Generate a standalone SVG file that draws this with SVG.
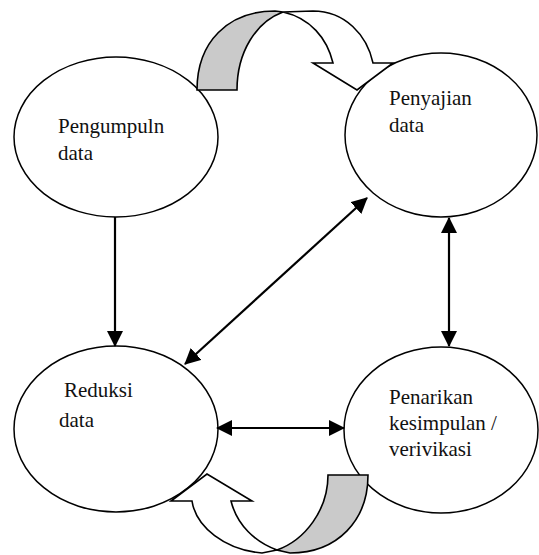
<svg xmlns="http://www.w3.org/2000/svg" width="539" height="555" viewBox="0 0 539 555">
<style>
.node ellipse{fill:#fff;stroke:#000;stroke-width:1.5}
.node text{font-family:"Liberation Serif","Times New Roman",serif;font-size:21px;fill:#111}
.conn line{stroke:#000;stroke-width:2.2;fill:none}
.ribbon{stroke:#000;stroke-width:1.6;stroke-linejoin:miter}
.shade{fill:#cacaca}
.face{fill:#fff}
</style>
<defs>
<marker id="ah" markerUnits="userSpaceOnUse" markerWidth="16" markerHeight="16" refX="15" refY="8" orient="auto-start-reverse">
<path d="M0,0 L16,8 L0,16 Z" fill="#000"/>
</marker>
</defs>
<rect width="539" height="555" fill="#fff"/>
<g id="pengumpulan" class="node">
<ellipse cx="116" cy="137" rx="102" ry="80"/>
<text x="58" y="133" font-family="Liberation Serif, serif">Pengumpuln</text>
<text x="58" y="160" font-family="Liberation Serif, serif">data</text>
</g>
<g id="penyajian" class="node">
<ellipse cx="441" cy="135" rx="96" ry="82"/>
<text x="389" y="105" font-family="Liberation Serif, serif">Penyajian</text>
<text x="389" y="132" font-family="Liberation Serif, serif">data</text>
</g>
<g id="reduksi" class="node">
<ellipse cx="116" cy="429" rx="102" ry="83"/>
<text x="64" y="397" font-family="Liberation Serif, serif">Reduksi</text>
<text x="59" y="427" font-family="Liberation Serif, serif">data</text>
</g>
<g id="penarikan" class="node">
<ellipse cx="441" cy="430" rx="97" ry="83"/>
<text x="389" y="404" font-family="Liberation Serif, serif">Penarikan</text>
<text x="389" y="430" font-family="Liberation Serif, serif">kesimpulan /</text>
<text x="389" y="456" font-family="Liberation Serif, serif">verivikasi</text>
</g>
<g id="connectors" class="conn">
<line x1="115" y1="217" x2="115" y2="346" marker-end="url(#ah)"/>
<line x1="185" y1="364" x2="367" y2="198" marker-start="url(#ah)" marker-end="url(#ah)"/>
<line x1="449" y1="218" x2="449" y2="346" marker-start="url(#ah)" marker-end="url(#ah)"/>
<line x1="217" y1="428" x2="344" y2="428" marker-start="url(#ah)" marker-end="url(#ah)"/>
</g>
<g id="cycle-top">
<path class="ribbon face" d="M283,12 L313,11 C345,11 367,35 373,63 L393,63 L357,90 L313,63 L333,63 C327,38 310,18 283,12 Z"/>
<path class="ribbon shade" d="M197,90 C197,42 228,11 275,11 L283,12 C256,22 237,52 237,90 Z"/>
</g>
<g id="cycle-bottom">
<path class="ribbon face" d="M277,550 L262,553 C225,550 196,527 192,501 L171,501 L207,474 L252,501 L231,501 C237,525 255,542 277,550 Z"/>
<path class="ribbon shade" d="M328,475 L368,475 C368,520 338,553 290,553 L277,550 C305,540 328,510 328,475 Z"/>
</g>
</svg>
